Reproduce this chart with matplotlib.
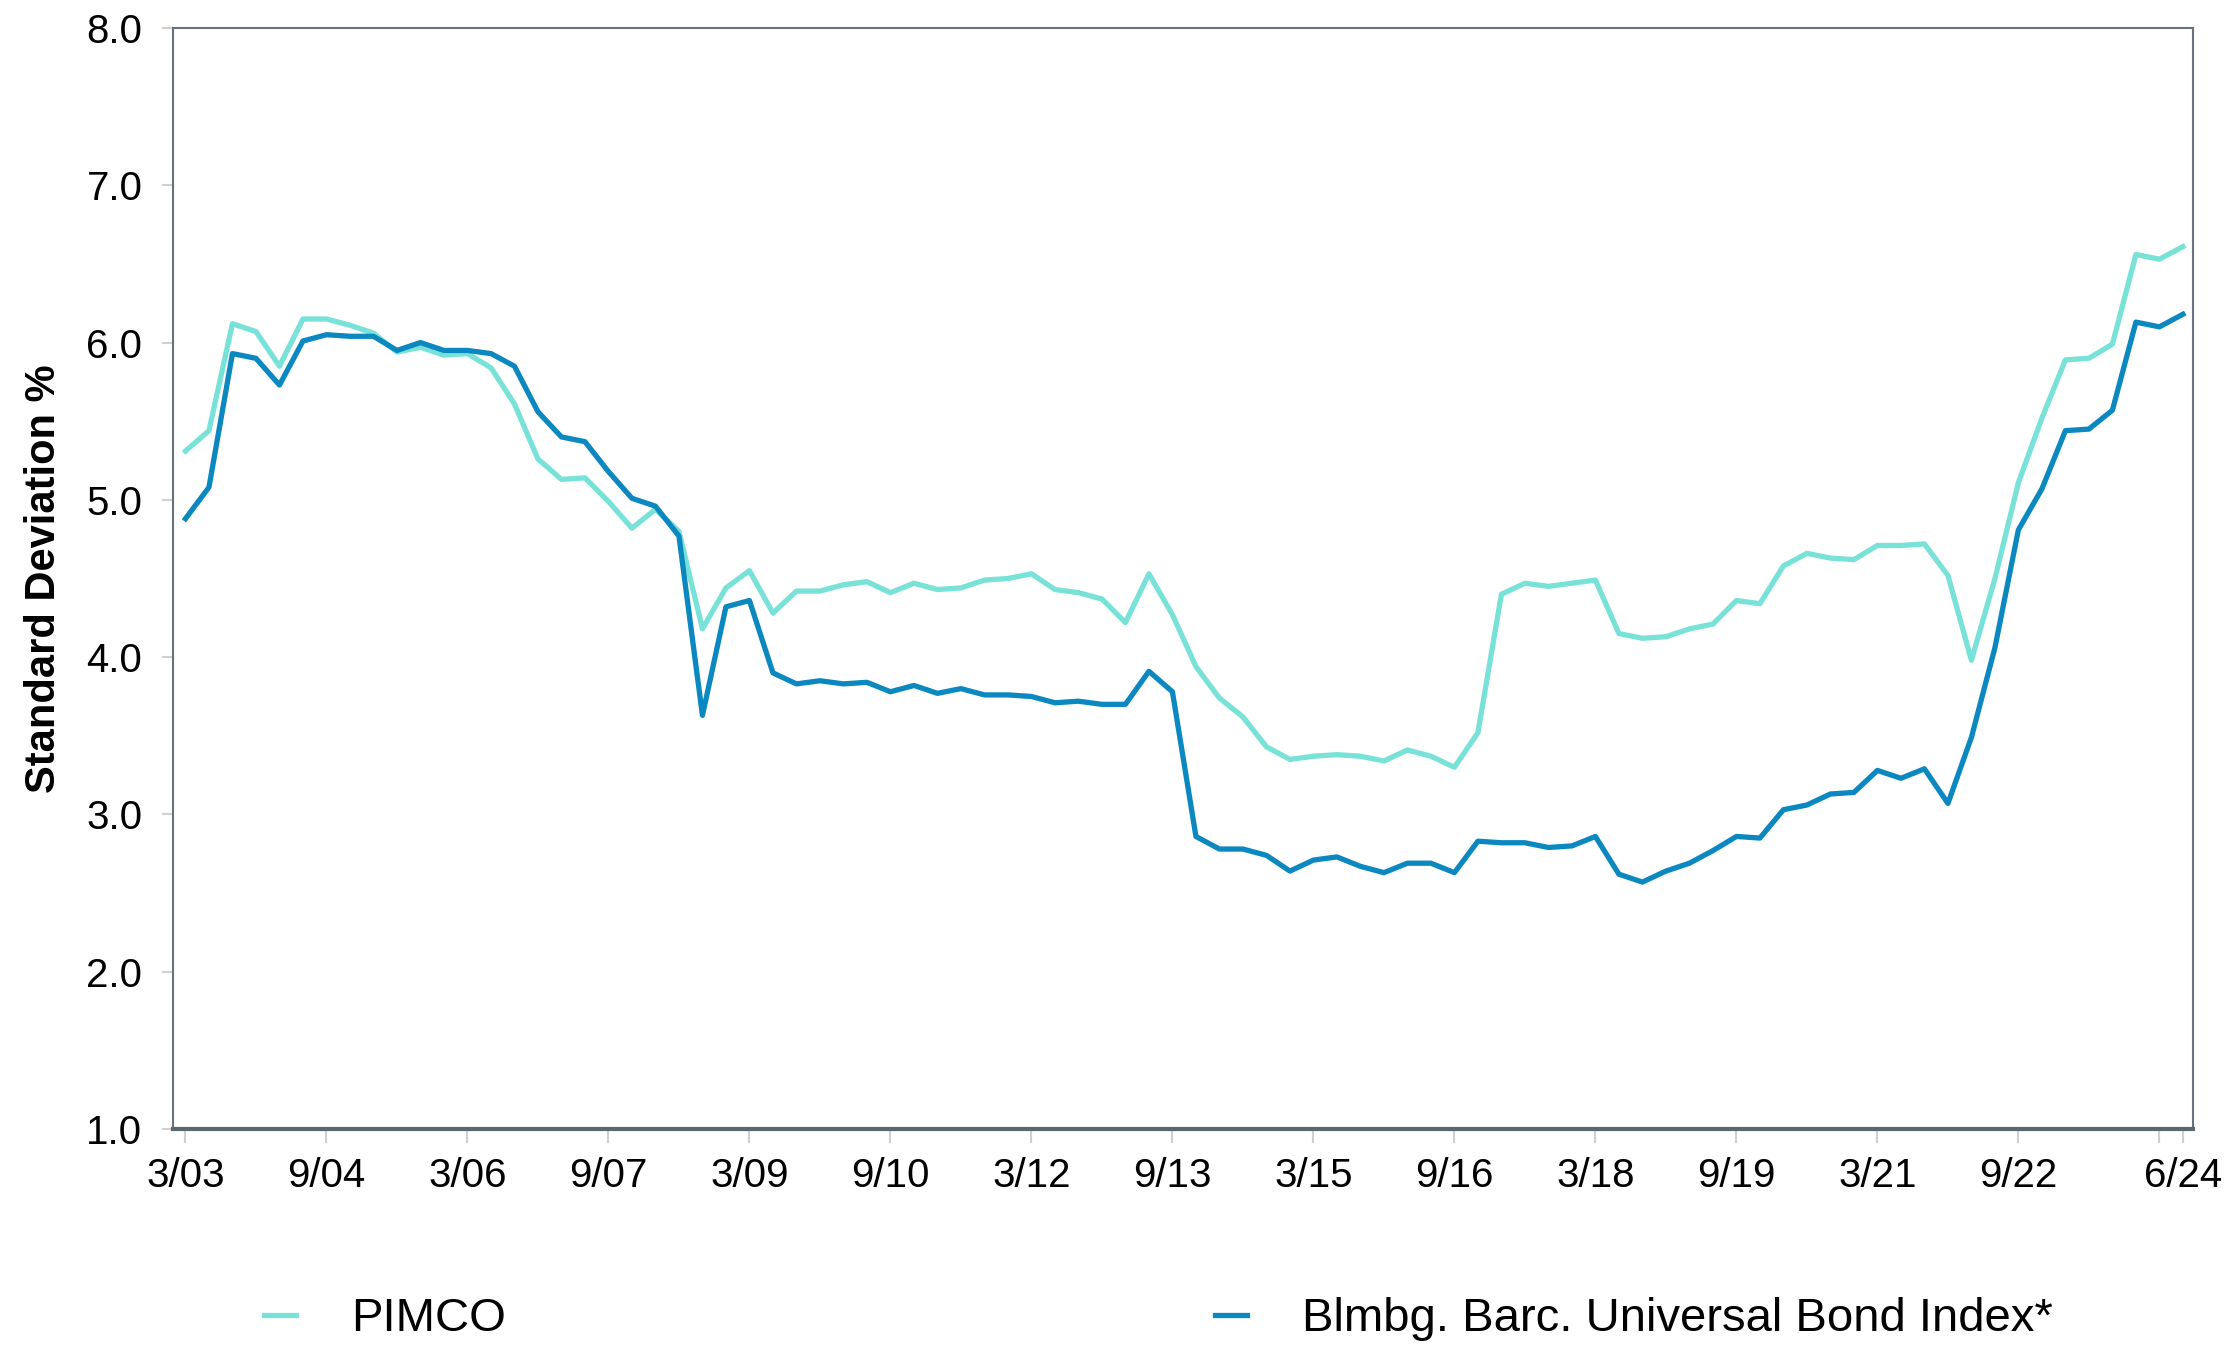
import matplotlib
matplotlib.use("Agg")
import matplotlib.pyplot as plt
import numpy as np

plt.rcParams['font.family'] = ['Liberation Sans', 'DejaVu Sans']

# quarterly dates from 3/03 to 6/24
start_year, start_month = 2003, 3
dates = []
for i in range(86):
    m = start_month + 3 * i
    y = start_year + (m - 1) // 12
    m = (m - 1) % 12 + 1
    dates.append("%d/%02d" % (m, y % 100))

pimco = [5.31, 5.44, 6.12, 6.07, 5.85, 6.15, 6.15, 6.11, 6.06, 5.94,
         5.97, 5.92, 5.93, 5.84, 5.61, 5.26, 5.13, 5.14, 4.99, 4.82,
         4.94, 4.80, 4.18, 4.44, 4.55, 4.28, 4.42, 4.42, 4.46, 4.48,
         4.41, 4.47, 4.43, 4.44, 4.49, 4.50, 4.53, 4.43, 4.41, 4.37,
         4.22, 4.53, 4.27, 3.94, 3.74, 3.62, 3.43, 3.35, 3.37, 3.38,
         3.37, 3.34, 3.41, 3.37, 3.30, 3.52, 4.40, 4.47, 4.45, 4.47,
         4.49, 4.15, 4.12, 4.13, 4.18, 4.21, 4.36, 4.34, 4.58, 4.66,
         4.63, 4.62, 4.71, 4.71, 4.72, 4.52, 3.98, 4.50, 5.11, 5.52,
         5.89, 5.90, 5.99, 6.56, 6.53, 6.61]

index = [4.88, 5.08, 5.93, 5.90, 5.73, 6.01, 6.05, 6.04, 6.04, 5.95,
         6.00, 5.95, 5.95, 5.93, 5.85, 5.56, 5.40, 5.37, 5.18, 5.01,
         4.96, 4.77, 3.63, 4.32, 4.36, 3.90, 3.83, 3.85, 3.83, 3.84,
         3.78, 3.82, 3.77, 3.80, 3.76, 3.76, 3.75, 3.71, 3.72, 3.70,
         3.70, 3.91, 3.78, 2.86, 2.78, 2.78, 2.74, 2.64, 2.71, 2.73,
         2.67, 2.63, 2.69, 2.69, 2.63, 2.83, 2.82, 2.82, 2.79, 2.80,
         2.86, 2.62, 2.57, 2.64, 2.69, 2.77, 2.86, 2.85, 3.03, 3.06,
         3.13, 3.14, 3.28, 3.23, 3.29, 3.07, 3.49, 4.06, 4.81, 5.07,
         5.44, 5.45, 5.57, 6.13, 6.10, 6.18]

tick_labels = ["3/03", "9/04", "3/06", "9/07", "3/09", "9/10", "3/12", "9/13",
               "3/15", "9/16", "3/18", "9/19", "3/21", "9/22", "", "6/24"]

x = np.arange(len(dates))
tick_pos = [dates.index(t) for t in tick_labels if t]
tick_pos.insert(-1, dates.index("3/24"))  # unlabelled tick before the last date

fig = plt.figure(figsize=(22.38, 13.46), dpi=100)
ax = fig.add_axes([0.0773, 0.1612, 0.9026, 0.8180])

ax.plot(x, pimco, color='#78E2D8', lw=3.8, label='PIMCO')
ax.plot(x, index, color='#0A88BF', lw=3.8, label='Blmbg. Barc. Universal Bond Index*')

ax.set_xlim(-0.53, 85.43)
ax.set_ylim(1.0, 8.0)
ax.set_yticks(np.arange(1.0, 8.01, 1.0))
ax.set_yticklabels(["%.1f" % v for v in np.arange(1.0, 8.01, 1.0)], fontsize=29)
ax.set_xticks(tick_pos)
ax.set_xticklabels(tick_labels, fontsize=29)
ax.tick_params(axis='y', length=8, width=1.5, color='#d0d0d0', pad=14)
ax.tick_params(axis='x', length=10, width=1.5, color='#d0d0d0', pad=10)

for side in ['left', 'top', 'right']:
    ax.spines[side].set_color('#66727d')
    ax.spines[side].set_linewidth(1.5)
ax.spines['bottom'].set_color('#5a6670')
ax.spines['bottom'].set_linewidth(3)

ax.set_ylabel('Standard Deviation %', fontsize=30, fontweight='bold', labelpad=16)

fig.legend(loc='center left', bbox_to_anchor=(0.118, 0.02), ncol=2, frameon=False,
           fontsize=34, handlelength=0.68, handletextpad=1.17, columnspacing=15.0,
           borderpad=0, borderaxespad=0)

plt.savefig('out.png', dpi=100)
